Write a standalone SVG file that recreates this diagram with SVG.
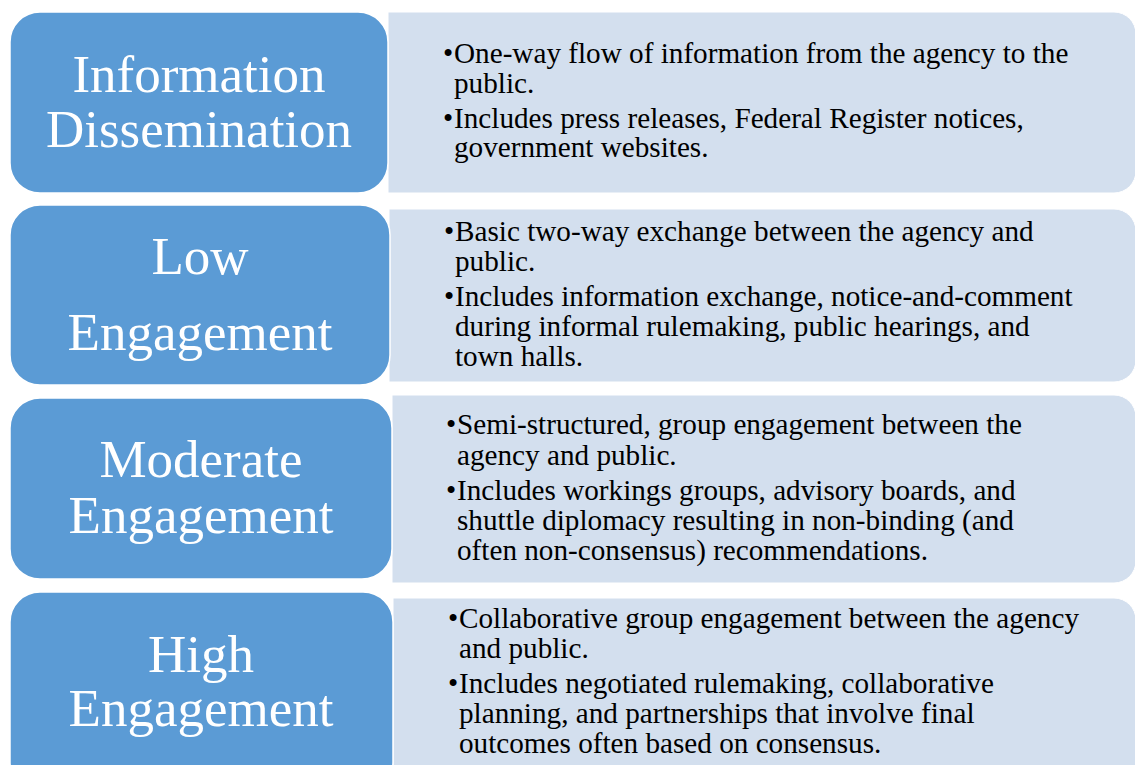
<svg xmlns="http://www.w3.org/2000/svg" width="1135" height="765" viewBox="0 0 1135 765">
<style>
.lbox{fill:#5B9BD5;stroke:#FFFFFF;stroke-width:1.5}
.rbox{fill:#D3DFEE;stroke:#FFFFFF;stroke-width:1}
.lt{font-family:"Liberation Serif","Times New Roman",serif;font-size:53px;fill:#FFFFFF;text-anchor:middle}
.rt{font-family:"Liberation Serif","Times New Roman",serif;font-size:29.2px;fill:#000000}
</style>
<rect width="1135" height="765" fill="#FFFFFF"/>
<g id="row1">
  <path class="rbox" d="M388,12 H1114 A22,22 0 0 1 1136,34 V171 A22,22 0 0 1 1114,193 H388 Z"/>
  <rect class="lbox" x="10" y="12" width="378" height="181" rx="30" ry="30"/>
  <text class="lt" x="199" y="92">Information</text>
  <text class="lt" x="199" y="147">Dissemination</text>
  <text class="rt"><tspan x="443" y="63">•</tspan><tspan x="454" y="63">One-way flow of information from the agency to the</tspan><tspan x="454" y="93">public.</tspan><tspan x="443" y="128">•</tspan><tspan x="454" y="128">Includes press releases, Federal Register notices,</tspan><tspan x="454" y="157">government websites.</tspan></text>
</g>
<g id="row2">
  <path class="rbox" d="M389,209 H1114 A22,22 0 0 1 1136,231 V360 A22,22 0 0 1 1114,382 H389 Z"/>
  <rect class="lbox" x="10" y="205" width="380" height="180" rx="30" ry="30"/>
  <text class="lt" x="200" y="274">Low</text>
  <text class="lt" x="200" y="350">Engagement</text>
  <text class="rt"><tspan x="444" y="241">•</tspan><tspan x="455" y="241">Basic two-way exchange between the agency and</tspan><tspan x="455" y="271">public.</tspan><tspan x="444" y="306">•</tspan><tspan x="455" y="306">Includes information exchange, notice-and-comment</tspan><tspan x="455" y="336">during informal rulemaking, public hearings, and</tspan><tspan x="455" y="366">town halls.</tspan></text>
</g>
<g id="row3">
  <path class="rbox" d="M392,395 H1114 A22,22 0 0 1 1136,417 V561 A22,22 0 0 1 1114,583 H392 Z"/>
  <rect class="lbox" x="10" y="398" width="382" height="181" rx="30" ry="30"/>
  <text class="lt" x="201" y="477">Moderate</text>
  <text class="lt" x="201" y="533">Engagement</text>
  <text class="rt"><tspan x="446" y="434">•</tspan><tspan x="457" y="434">Semi-structured, group engagement between the</tspan><tspan x="457" y="465">agency and public.</tspan><tspan x="446" y="500">•</tspan><tspan x="457" y="500">Includes workings groups, advisory boards, and</tspan><tspan x="457" y="530">shuttle diplomacy resulting in non-binding (and</tspan><tspan x="457" y="560">often non-consensus) recommendations.</tspan></text>
</g>
<g id="row4">
  <path class="rbox" d="M393,598 H1114 A22,22 0 0 1 1136,620 V790 H393 Z"/>
  <rect class="lbox" x="10" y="592" width="383" height="200" rx="30" ry="30"/>
  <text class="lt" x="201" y="672">High</text>
  <text class="lt" x="201" y="726">Engagement</text>
  <text class="rt"><tspan x="448" y="628">•</tspan><tspan x="459" y="628">Collaborative group engagement between the agency</tspan><tspan x="459" y="658">and public.</tspan><tspan x="448" y="693">•</tspan><tspan x="459" y="693">Includes negotiated rulemaking, collaborative</tspan><tspan x="459" y="723">planning, and partnerships that involve final</tspan><tspan x="459" y="753">outcomes often based on consensus.</tspan></text>
</g>
<g id="connectors"></g>
</svg>
